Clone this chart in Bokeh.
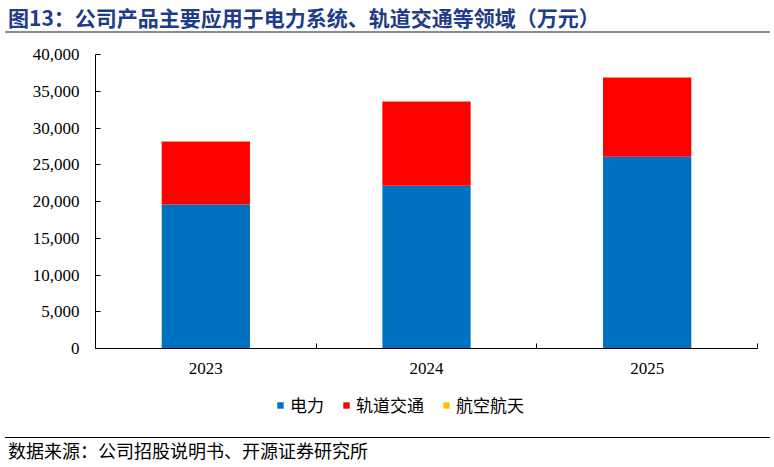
from bokeh.plotting import figure
from bokeh.layouts import column
from bokeh.models import (Range1d, FixedTicker, NumeralTickFormatter, Legend, LegendItem,
                          ColumnDataSource, Div)
from bokeh.embed import file_html
from bokeh.resources import INLINE

# ---- data ----
years = ["2023", "2024", "2025"]
series = ["电力", "轨道交通", "航空航天"]
power = [19600, 22150, 26100]
rail = [8570, 11460, 10770]
aero = [20, 30, 40]
colors = ["#0070C0", "#FF0000", "#FFC000"]
y_ticks = [0, 5000, 10000, 15000, 20000, 25000, 30000, 35000, 40000]
title_text = "图13：公司产品主要应用于电力系统、轨道交通等领域（万元）"
source_text = "数据来源：公司招股说明书、开源证券研究所"

# ---- layout (page pixels) ----
W = 774
HEAD_BOT = 40
MAIN_BOT = 390
LEG_BOT = 430
PAGE_BOT = 467
L, R, T, B = 95, 757, 54, 348   # plot frame in page pixels
CJK = "Noto Sans CJK SC"

# ---- header (title + grey rule) ----
head = Div(width=W, height=HEAD_BOT, margin=(0, 0, 0, 0), text=(
    '<div style="position:relative;width:%dpx;height:%dpx;">'
    '<div style="position:absolute;left:8px;top:5px;font-family:\'%s\';font-weight:bold;'
    'font-size:21px;line-height:24px;color:#1F3C88;white-space:nowrap;">%s</div>'
    '<div style="position:absolute;left:5px;top:31px;width:765px;height:0;'
    'border-top:2px solid #8C8C8C;"></div></div>') % (W, HEAD_BOT, CJK, title_text))

# ---- main chart ----
p = figure(width=W, height=MAIN_BOT - HEAD_BOT, x_range=Range1d(0, len(years)),
           y_range=Range1d(0, y_ticks[-1]),
           output_backend="svg", toolbar_location=None,
           min_border_left=L, min_border_right=W - R,
           min_border_top=T - HEAD_BOT, min_border_bottom=MAIN_BOT - B)
p.xgrid.visible = False
p.ygrid.visible = False
p.outline_line_color = None
p.background_fill_color = "white"
p.border_fill_color = "white"

centers = [i + 0.5 for i in range(len(years))]
data = {"x": centers}
for name, vals in zip(series, [power, rail, aero]):
    data[name] = vals
src = ColumnDataSource(data)
rs = p.vbar_stack(series, x="x", width=0.4, fill_color=colors, line_color=None, source=src)

ya = p.yaxis[0]
ya.ticker = FixedTicker(ticks=y_ticks)
ya.formatter = NumeralTickFormatter(format="0,0")
ya.major_tick_in = 5
ya.major_tick_out = 0
ya.minor_tick_line_color = None
ya.axis_line_color = "black"
ya.major_tick_line_color = "black"
ya.major_label_text_font = "Liberation Serif"
ya.major_label_text_font_size = "17px"
ya.major_label_text_color = "black"
ya.major_label_standoff = 16

xa = p.xaxis[0]
xa.ticker = FixedTicker(ticks=centers, minor_ticks=list(range(1, len(years) + 1)))
xa.major_label_overrides = {c: y for c, y in zip(centers, years)}
xa.major_tick_line_color = None
xa.major_tick_in = 0
xa.major_tick_out = 0
xa.minor_tick_in = 5
xa.minor_tick_out = 0
xa.minor_tick_line_color = "black"
xa.axis_line_color = "black"
xa.major_label_text_font = "Liberation Serif"
xa.major_label_text_font_size = "17px"
xa.major_label_text_color = "black"
xa.major_label_standoff = 14

# ---- legend strip ----
leg = figure(width=W, height=LEG_BOT - MAIN_BOT, x_range=Range1d(0, 1), y_range=Range1d(0, 1),
             output_backend="svg", toolbar_location=None, x_axis_type=None, y_axis_type=None,
             min_border_left=L, min_border_right=W - R, min_border_top=0, min_border_bottom=0)
leg.xgrid.visible = False
leg.ygrid.visible = False
leg.outline_line_color = None
leg.background_fill_color = "white"
leg.border_fill_color = "white"
items = []
for name, col in zip(series, colors):
    r = leg.vbar(x=[-5], top=[0], width=0.1, fill_color=col, line_color=None)
    items.append(LegendItem(label=name, renderers=[r]))
legend = Legend(items=items, location=(276 - L, LEG_BOT - 417), orientation="horizontal",
                glyph_width=8, glyph_height=8, label_standoff=6, spacing=18,
                padding=0, margin=0, border_line_color=None, background_fill_alpha=0,
                label_text_font=CJK, label_text_font_size="17px",
                label_height=17, label_text_color="black")
leg.add_layout(legend)

# ---- footer (rule + source) ----
FH = PAGE_BOT - LEG_BOT
foot = Div(width=W, height=FH, margin=(0, 0, 0, 0), text=(
    '<div style="position:relative;width:%dpx;height:%dpx;">'
    '<div style="position:absolute;left:5px;top:%dpx;width:765px;height:0;'
    'border-top:1px solid #000000;"></div>'
    '<div style="position:absolute;left:8px;top:%dpx;font-family:\'%s\';'
    'font-size:18px;line-height:22px;color:#000000;white-space:nowrap;">%s</div></div>')
    % (W, FH, 437 - LEG_BOT, 450 - LEG_BOT - 11, CJK, source_text))

layout = column(head, p, leg, foot, spacing=0)
open("out.html", "w").write(file_html(layout, INLINE))
